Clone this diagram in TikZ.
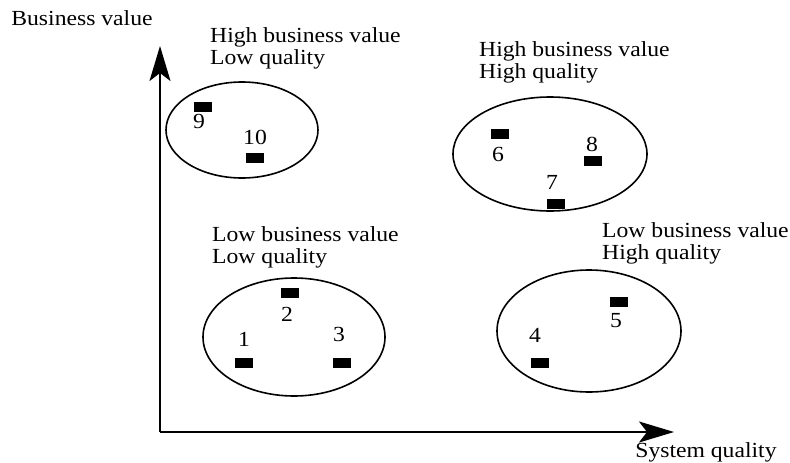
\documentclass[tikz,border=0pt]{standalone}
\usepackage{fontspec}
\setmainfont[FakeStretch=1.1]{Liberation Serif}
\usetikzlibrary{arrows.meta}

\begin{document}
\begin{tikzpicture}[x=1pt,y=-1pt,
    every node/.style={font=\fontsize{21.5}{22}\selectfont},
    axis/.style={line width=2pt,-{Stealth[length=35pt,width=21pt,inset=8pt]}},
    group/.style={line width=1.6pt},
    item/.style={fill,minimum width=18pt,minimum height=10pt,inner sep=0pt},
    caption/.style={align=left,anchor=base west,inner sep=0pt}]
  \useasboundingbox (0,0) rectangle (790,463);

  % axes
  \coordinate (O) at (160,432);
  \coordinate (Y) at (160,46);
  \coordinate (X) at (674,432);
  \draw[axis] (O) -- (Y);
  \draw[axis] (O) -- (X);
  \node (yl) at (82,18) {Business value};
  \node (xl) at (706,452) {System quality};

  % high value, low quality
  \node[caption] (hvlq) at (210,64) {High business value\\Low quality};
  \draw[group] (242,130) ellipse [x radius=76, y radius=48];
  \node[item] (s9) at (203,107) {};
  \node (n9) at (199,121) {9};
  \node[item] (s10) at (255,158) {};
  \node (n10) at (255,137) {10};

  % high value, high quality
  \node[caption] (hvhq) at (479,78) {High business value\\High quality};
  \draw[group] (550,154) ellipse [x radius=97, y radius=57];
  \node[item] (s6) at (500,134) {};
  \node (n6) at (498,154) {6};
  \node[item] (s7) at (556,204) {};
  \node (n7) at (552,182) {7};
  \node[item] (s8) at (593,161) {};
  \node (n8) at (592,144) {8};

  % low value, low quality
  \node[caption] (lvlq) at (212,263) {Low business value\\Low quality};
  \draw[group] (294,337) ellipse [x radius=91, y radius=59];
  \node[item] (s1) at (244,363) {};
  \node (n1) at (244,339) {1};
  \node[item] (s2) at (290,293) {};
  \node (n2) at (287,314) {2};
  \node[item] (s3) at (342,363) {};
  \node (n3) at (339,334) {3};

  % low value, high quality
  \node[caption] (lvhq) at (602,259) {Low business value\\High quality};
  \draw[group] (589,331) ellipse [x radius=92, y radius=61];
  \node[item] (s4) at (540,363) {};
  \node (n4) at (535,335) {4};
  \node[item] (s5) at (619,302) {};
  \node (n5) at (616,321) {5};
\end{tikzpicture}
\end{document}
